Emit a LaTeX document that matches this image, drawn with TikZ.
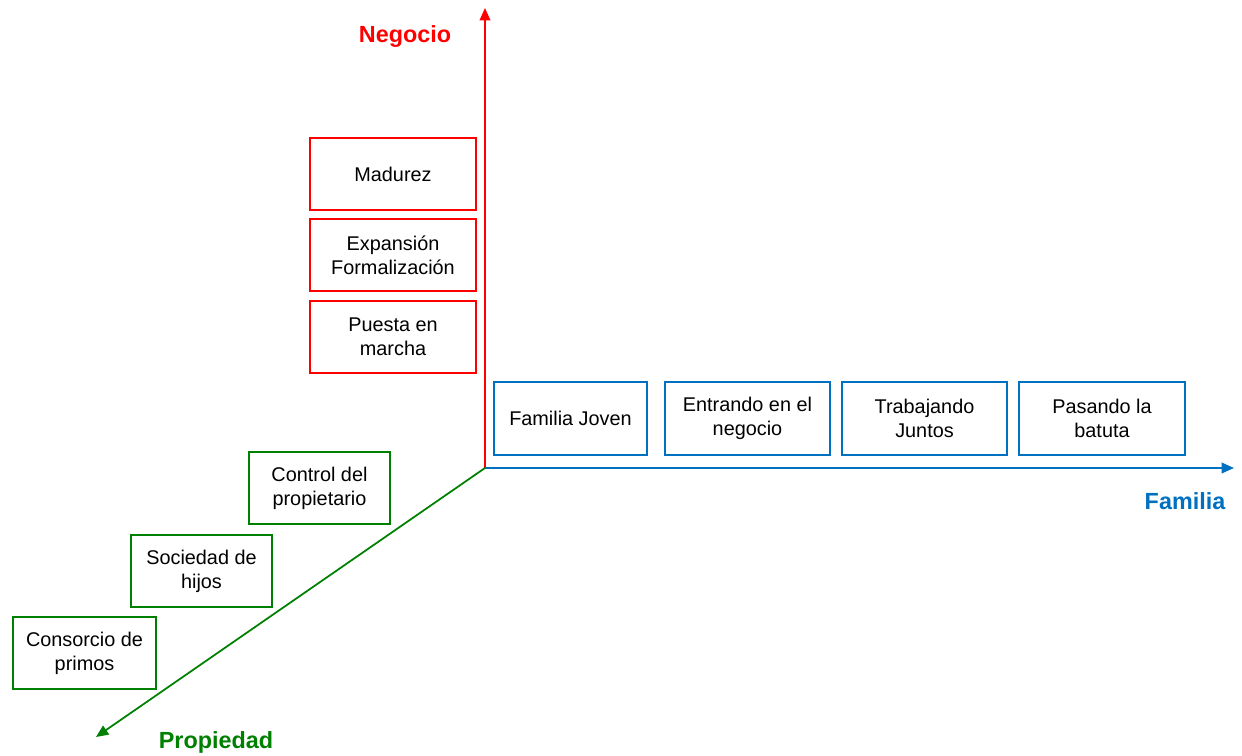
\documentclass[tikz,border=0pt]{standalone}
\usepackage{fontspec}
\setmainfont{Liberation Sans}
\usetikzlibrary{arrows.meta}
\definecolor{negred}{RGB}{255,0,0}
\definecolor{famblue}{RGB}{0,112,192}
\definecolor{propgreen}{RGB}{0,128,0}
\begin{document}
\begin{tikzpicture}[x=0.02cm,y=-0.02cm,
  stage/.style={draw,rectangle,line width=0.6pt,align=center,inner sep=0pt,
    font=\fontsize{11.3}{13.6}\selectfont,text=black},
  redbox/.style={stage,draw=negred,minimum width=3.32cm,minimum height=1.44cm},
  bluebox/.style={stage,draw=famblue,minimum height=1.46cm},
  greenbox/.style={stage,draw=propgreen,minimum width=2.82cm,minimum height=1.44cm},
  axis/.style={line width=1pt,-{Triangle[length=7pt,width=6pt]}},
  axislabel/.style={font=\fontsize{13.3}{16}\selectfont\bfseries}]
\useasboundingbox (0,0) rectangle (1242,756);

% axes
\coordinate (o) at (485,468);
\coordinate (ntip) at (485,8);
\coordinate (ftip) at (1234,468);
\coordinate (ptip) at (96,737);
\draw[axis,negred] (o) -- (ntip);
\draw[axis,famblue] (o) -- (ftip);
\draw[axis,propgreen] (o) -- (ptip);

% axis labels
\node[axislabel,text=negred] (lneg) at (405,37) {Negocio};
\node[axislabel,text=famblue] (lfam) at (1185,501) {Familia};
\node[axislabel,text=propgreen] (lprop) at (216,742) {Propiedad};

% business stages
\node[redbox] (n1) at (393,174) {Madurez};
\node[redbox] (n2) at (393,255) {Expansión\\Formalización};
\node[redbox] (n3) at (393,337) {Puesta en\\marcha};

% family stages
\node[bluebox,minimum width=3.06cm] (f1) at (570.5,418.5) {Familia Joven};
\node[bluebox,minimum width=3.30cm] (f2) at (747.5,418.5) {Entrando en el\\negocio};
\node[bluebox,minimum width=3.30cm] (f3) at (924.5,418.5) {Trabajando\\Juntos};
\node[bluebox,minimum width=3.32cm] (f4) at (1102,418.5) {Pasando la\\batuta};

% ownership stages
\node[greenbox] (p1) at (319.5,488) {Control del\\propietario};
\node[greenbox] (p2) at (201.5,571) {Sociedad de\\hijos};
\node[greenbox,minimum width=2.86cm] (p3) at (84.5,653) {Consorcio de\\primos};
\end{tikzpicture}
\end{document}
